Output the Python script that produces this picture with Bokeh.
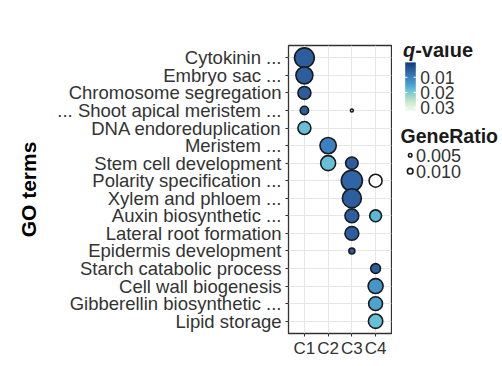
import numpy as np
from bokeh.plotting import figure
from bokeh.layouts import row
from bokeh.models import FactorRange, Range1d, ColumnDataSource, LinearColorMapper
from bokeh.core.properties import value
from bokeh.embed import file_html
from bokeh.resources import INLINE

FONT = "Liberation Sans"
TXT = "#333333"

# ---------------- data ----------------
terms = ["Cytokinin ...", "Embryo sac ...", "Chromosome segregation",
         "... Shoot apical meristem ...", "DNA endoreduplication", "Meristem ...",
         "Stem cell development", "Polarity specification ...", "Xylem and phloem ...",
         "Auxin biosynthetic ...", "Lateral root formation", "Epidermis development",
         "Starch catabolic process", "Cell wall biogenesis", "Gibberellin biosynthetic ...",
         "Lipid storage"]
clusters = ["C1", "C2", "C3", "C4"]

point_term = ["Cytokinin ...", "Embryo sac ...", "Chromosome segregation",
              "... Shoot apical meristem ...", "... Shoot apical meristem ...",
              "DNA endoreduplication", "Meristem ...", "Stem cell development",
              "Stem cell development", "Polarity specification ...",
              "Polarity specification ...", "Xylem and phloem ...",
              "Auxin biosynthetic ...", "Auxin biosynthetic ...", "Lateral root formation",
              "Epidermis development", "Starch catabolic process", "Cell wall biogenesis",
              "Gibberellin biosynthetic ...", "Lipid storage"]
point_cluster = ["C1", "C1", "C1", "C1", "C3", "C1", "C2", "C2", "C3", "C3",
                 "C4", "C3", "C3", "C4", "C3", "C3", "C4", "C4", "C4", "C4"]
gene_ratio = [0.088, 0.067, 0.041, 0.019, 0.004, 0.041, 0.062, 0.053, 0.038, 0.099,
              0.041, 0.082, 0.046, 0.035, 0.046, 0.011, 0.025, 0.053, 0.046, 0.049]
q_value = [0.005, 0.005, 0.005, 0.005, 0.040, 0.018, 0.010, 0.018, 0.005, 0.006,
           0.040, 0.005, 0.005, 0.017, 0.005, 0.005, 0.005, 0.013, 0.015, 0.018]

q_ticks = [0.01, 0.02, 0.03]
q_tick_labels = ["0.01", "0.02", "0.03"]
ratio_legend = [0.005, 0.010]
ratio_legend_labels = ["0.005", "0.010"]

Q_LOW, Q_HIGH = 0.0002, 0.0322

# ---------------- colour scale ----------------
stops = [(0.00, "#0b3d7e"), (0.15, "#2c5e9f"), (0.30, "#3a80c0"), (0.45, "#4aa0cf"),
         (0.55, "#63bfd9"), (0.70, "#a2d8c8"), (0.85, "#d6eed0"), (1.00, "#f6fbf3")]


def _rgb(h):
    return [int(h[i:i + 2], 16) for i in (1, 3, 5)]


pos = np.array([s[0] for s in stops])
cols = np.array([_rgb(s[1]) for s in stops], dtype=float)
t = np.linspace(0, 1, 256)
palette = ["#%02x%02x%02x" % tuple(int(round(np.interp(tt, pos, cols[:, k]))) for k in range(3))
           for tt in t]

mapper = LinearColorMapper(palette=palette, low=Q_LOW, high=Q_HIGH, high_color="white")

LW = 1.6
SCALE = 72.0


def size_of(r):
    return max(SCALE * np.sqrt(r) - LW, 1.0)


src = ColumnDataSource(dict(term=point_term, cluster=point_cluster, ratio=gene_ratio,
                            q=q_value, size=[size_of(r) for r in gene_ratio]))

H = 360
TOP, BOTTOM = 45, 25
p = figure(width=392, height=H,
           x_range=FactorRange(factors=clusters, range_padding=0.17,
                               range_padding_units="absolute"),
           y_range=FactorRange(factors=terms[::-1], range_padding=0.2,
                               range_padding_units="absolute"),
           output_backend="svg", toolbar_location=None,
           min_border_left=288, min_border_right=1, min_border_top=TOP,
           min_border_bottom=BOTTOM)

p.scatter("cluster", "term", source=src, size="size",
          fill_color={"field": "q", "transform": mapper},
          line_color="#1a1a1a", line_width=LW)

p.outline_line_color = "#333333"
p.outline_line_width = 1.3
p.grid.grid_line_color = "#e6e6e6"
p.grid.grid_line_width = 1
p.axis.axis_line_color = None
p.axis.major_tick_line_color = "#333333"
p.axis.major_tick_out = 3
p.axis.major_tick_in = 0
p.axis.major_label_text_font = FONT
p.axis.major_label_text_color = TXT
p.xaxis.major_label_text_font_size = "17px"
p.xaxis.major_label_standoff = 2
p.yaxis.major_label_text_font_size = "18.5px"
p.yaxis.major_label_standoff = 4
p.yaxis.axis_label = "GO terms"
p.yaxis.axis_label_text_font = FONT
p.yaxis.axis_label_text_font_style = "bold"
p.yaxis.axis_label_text_font_size = "21px"
p.yaxis.axis_label_text_color = "#000000"
p.yaxis.axis_label_standoff = 14
p.background_fill_color = "white"
p.border_fill_color = "white"

# ---------------- legend panel (data coordinates = page pixels) ----------------
LX0, LWID = 392, 110
lg = figure(width=LWID, height=H, x_range=Range1d(LX0, LX0 + LWID),
            y_range=Range1d(H - BOTTOM, TOP),
            x_axis_type=None, y_axis_type=None, min_border_left=0, min_border_right=0,
            min_border_top=TOP, min_border_bottom=BOTTOM,
            output_backend="svg", toolbar_location=None)
lg.grid.visible = False
lg.outline_line_color = None

# q-value title
lg.text(x=[402.5], y=[49.5], text=["q"], text_font=value(FONT), text_font_style="bold italic",
        text_font_size="20px", text_color="#1a1a1a", text_baseline="middle", text_align="left")
lg.text(x=[414.7], y=[49.5], text=["-value"], text_font=value(FONT), text_font_style="bold",
        text_font_size="20px", text_color="#1a1a1a", text_baseline="middle", text_align="left")

# colour bar (gradient drawn through the same colour mapper)
CB_X, CB_TOP, CB_W, CB_H = 404.7, 62.0, 10.6, 49.0
grad = np.linspace(Q_LOW, Q_HIGH, 200).reshape(-1, 1)
lg.image(image=[grad], x=CB_X, y=CB_TOP, dw=CB_W, dh=CB_H, color_mapper=mapper)
tick_y = [CB_TOP + (q - Q_LOW) / (Q_HIGH - Q_LOW) * CB_H for q in q_ticks]
lg.segment(x0=[CB_X] * 3, x1=[CB_X + 2.2] * 3, y0=tick_y, y1=tick_y,
           line_color="white", line_width=1)
lg.segment(x0=[CB_X + CB_W - 2.2] * 3, x1=[CB_X + CB_W] * 3, y0=tick_y, y1=tick_y,
           line_color="white", line_width=1)
lg.text(x=[CB_X + CB_W + 4.5] * 3, y=tick_y, text=q_tick_labels, text_font=value(FONT),
        text_font_size="17.5px", text_color=TXT, text_baseline="middle", text_align="left")

# GeneRatio legend
lg.text(x=[400], y=[136], text=["GeneRatio"], text_font=value(FONT), text_font_style="bold",
        text_font_size="19.5px", text_color="#1a1a1a", text_baseline="middle", text_align="left")
leg_y = [155.5, 171.5]
leg_src = ColumnDataSource(dict(x=[409.7, 409.7], y=leg_y,
                                size=[size_of(r) for r in ratio_legend],
                                lab=ratio_legend_labels))
lg.scatter("x", "y", source=leg_src, size="size", fill_color="white",
           line_color="#1a1a1a", line_width=LW)
lg.text(x=[415.5, 415.5], y=leg_y, text=ratio_legend_labels, text_font=value(FONT),
        text_font_size="18px", text_color=TXT, text_baseline="middle", text_align="left")

layout = row(p, lg)
html = file_html(layout, INLINE)
html = html.replace("<head>", "<head><style>html,body{margin:0;padding:0;}</style>", 1)
open("out.html", "w").write(html)
